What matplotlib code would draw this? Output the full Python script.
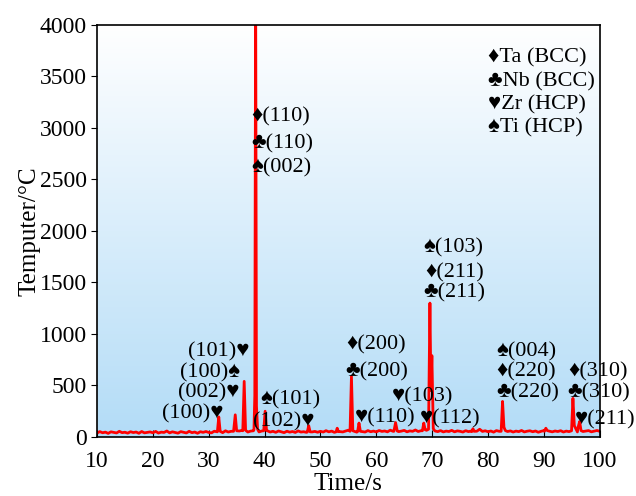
import numpy as np
import matplotlib
matplotlib.use("Agg")
import matplotlib.pyplot as plt
from matplotlib.colors import LinearSegmentedColormap

plt.rcParams['font.family'] = ['Liberation Serif', 'DejaVu Sans']
plt.rcParams['mathtext.fontset'] = 'stix'

# baseline, one value every 0.5 s from 10 to 100
base_t = np.arange(10, 100.01, 0.5)
base_v = [38, 52, 41, 47, 35, 50, 44, 39, 55, 42, 46, 37, 51, 43, 48, 36, 53, 40, 45, 49,
          41, 54, 38, 47, 44, 58, 40, 50, 43, 37, 52, 46, 39, 55, 42, 48, 36, 51, 45, 53,
          44, 40, 56, 47, 50, 42, 60, 48, 55, 50, 62, 58, 65, 52, 48, 57, 60, 54, 49, 58,
          52, 60, 48, 55, 45, 58, 50, 42, 56, 47, 53, 44, 59, 48, 51, 45, 60, 49, 54, 46,
          55, 48, 61, 50, 57, 45, 63, 52, 49, 58, 66, 50, 56, 47, 60, 52, 48, 62, 51, 57,
          49, 63, 54, 58, 50, 66, 55, 60, 52, 57, 64, 50, 59, 55, 68, 53, 61, 57, 65, 70,
          60, 58, 52, 62, 49, 57, 53, 64, 50, 59, 55, 48, 61, 52, 58, 63, 56, 75, 54, 60,
          51, 58, 47, 62, 55, 50, 66, 53, 59, 48, 57, 52, 63, 49, 56, 60, 51, 58, 46, 55,
          62, 70, 56, 50, 58, 53, 61, 48, 57, 52, 64, 55, 49, 60, 53, 58, 62, 50, 57, 63,
          55]

# peaks (time points and values)
peak_t = [[31.55, 31.8, 32.05],
          [34.45, 34.75, 35.0],
          [36.1, 36.35, 36.6],
          [38.1, 38.25, 38.4, 38.55, 38.75],
          [39.85, 40.1, 40.35],
          [47.65, 47.9, 48.15],
          [52.8, 53.0, 53.2],
          [55.3, 55.55, 55.8],
          [56.65, 56.9, 57.15],
          [63.15, 63.45, 63.75],
          [68.25, 68.5, 68.75],
          [69.35, 69.6, 69.78, 69.95, 70.2],
          [77.1, 77.3, 77.5],
          [82.35, 82.6, 82.85, 83.1],
          [90.1, 90.35, 90.6],
          [94.95, 95.2, 95.45],
          [96.15, 96.4, 96.65]]
peak_v = [[50, 195, 55],
          [55, 215, 60],
          [60, 540, 65],
          [70, 400, 4500, 300, 75],
          [60, 250, 62],
          [48, 110, 50],
          [50, 85, 52],
          [55, 590, 60],
          [52, 135, 55],
          [55, 140, 58],
          [60, 135, 70],
          [75, 1300, 450, 790, 80],
          [52, 80, 55],
          [55, 345, 95, 62],
          [55, 85, 62],
          [60, 375, 110],
          [100, 150, 62]]

# annotations: (text, x, y, ha)
labels = [("\u2666(110)", 37.55, 3107, 'left'),
          ("\u2663(110)", 37.55, 2845, 'left'),
          ("\u2660(002)", 37.55, 2612, 'left'),
          ("(101)\u2665", 37.37, 825, 'right'),
          ("(100)\u2660", 35.59, 621, 'right'),
          ("(002)\u2665", 35.59, 427, 'right'),
          ("(100)\u2665", 32.72, 223, 'right'),
          ("\u2660(101)", 39.16, 359, 'left'),
          ("(102)\u2665", 49.0, 149, 'right'),
          ("\u2666(200)", 54.67, 893, 'left'),
          ("\u2663(200)", 54.37, 634, 'left'),
          ("\u2665(110)", 56.16, 184, 'left'),
          ("\u2665(103)", 62.73, 392, 'left'),
          ("\u2665(112)", 67.79, 175, 'left'),
          ("\u2660(103)", 68.5, 1835, 'left'),
          ("\u2666(211)", 68.69, 1595, 'left'),
          ("\u2663(211)", 68.5, 1395, 'left'),
          ("\u2660(004)", 81.5, 828, 'left'),
          ("\u2666(220)", 81.5, 634, 'left'),
          ("\u2663(220)", 81.45, 424, 'left'),
          ("\u2666(310)", 94.33, 634, 'left'),
          ("\u2663(310)", 94.15, 427, 'left'),
          ("\u2665(211)", 95.5, 165, 'left')]

legend_items = ["\u2666Ta (BCC)", "\u2663Nb (BCC)", "\u2665Zr (HCP)", "\u2660Ti (HCP)"]
legend_y = [3680, 3447, 3223, 3000]

#--------------------------------------------------------------------------------------------

# merge baseline and peaks
t_all = []
v_all = []
for t, v in zip(base_t, base_v):
    if any(pt[0] - 0.05 <= t <= pt[-1] + 0.05 for pt in peak_t):
        continue
    t_all.append(t)
    v_all.append(v)
for pt, pv in zip(peak_t, peak_v):
    t_all += pt
    v_all += pv
order = np.argsort(t_all)
t_all = np.array(t_all)[order]
v_all = np.array(v_all)[order]

fig = plt.figure(figsize=(6.36, 4.96), dpi=100)
ax = fig.add_axes([0.1525, 0.119, 0.7905, 0.8306])

cmap = LinearSegmentedColormap.from_list("bg", ["#b3dcf7", "#ffffff"])
grad = np.linspace(0, 1, 256).reshape(-1, 1)
ax.imshow(grad, cmap=cmap, origin='lower', extent=[10, 100, 0, 4000],
          aspect='auto', zorder=0)

ax.plot(t_all, v_all, color="red", lw=2, zorder=2)

for txt, x, y, ha in labels:
    ax.text(x, y, txt, ha=ha, va='center', fontsize=16, zorder=3)
for txt, y in zip(legend_items, legend_y):
    ax.text(79.96, y, txt, ha='left', va='center', fontsize=16, zorder=3)

ax.set_xlim(10, 100)
ax.set_ylim(0, 4000)
ax.set_xticks(range(10, 101, 10))
ax.set_yticks(range(0, 4001, 500))
ax.tick_params(axis='x', direction='in', length=5, labelsize=17, pad=10)
ax.tick_params(axis='y', direction='out', length=4, labelsize=17)
ax.set_xlabel("Time/s", fontsize=18, labelpad=1)
ax.set_ylabel("Temputer/\u00b0C", fontsize=18, labelpad=-1)
for s in ax.spines.values():
    s.set_linewidth(1.2)

fig.savefig("out.png", dpi=100)
